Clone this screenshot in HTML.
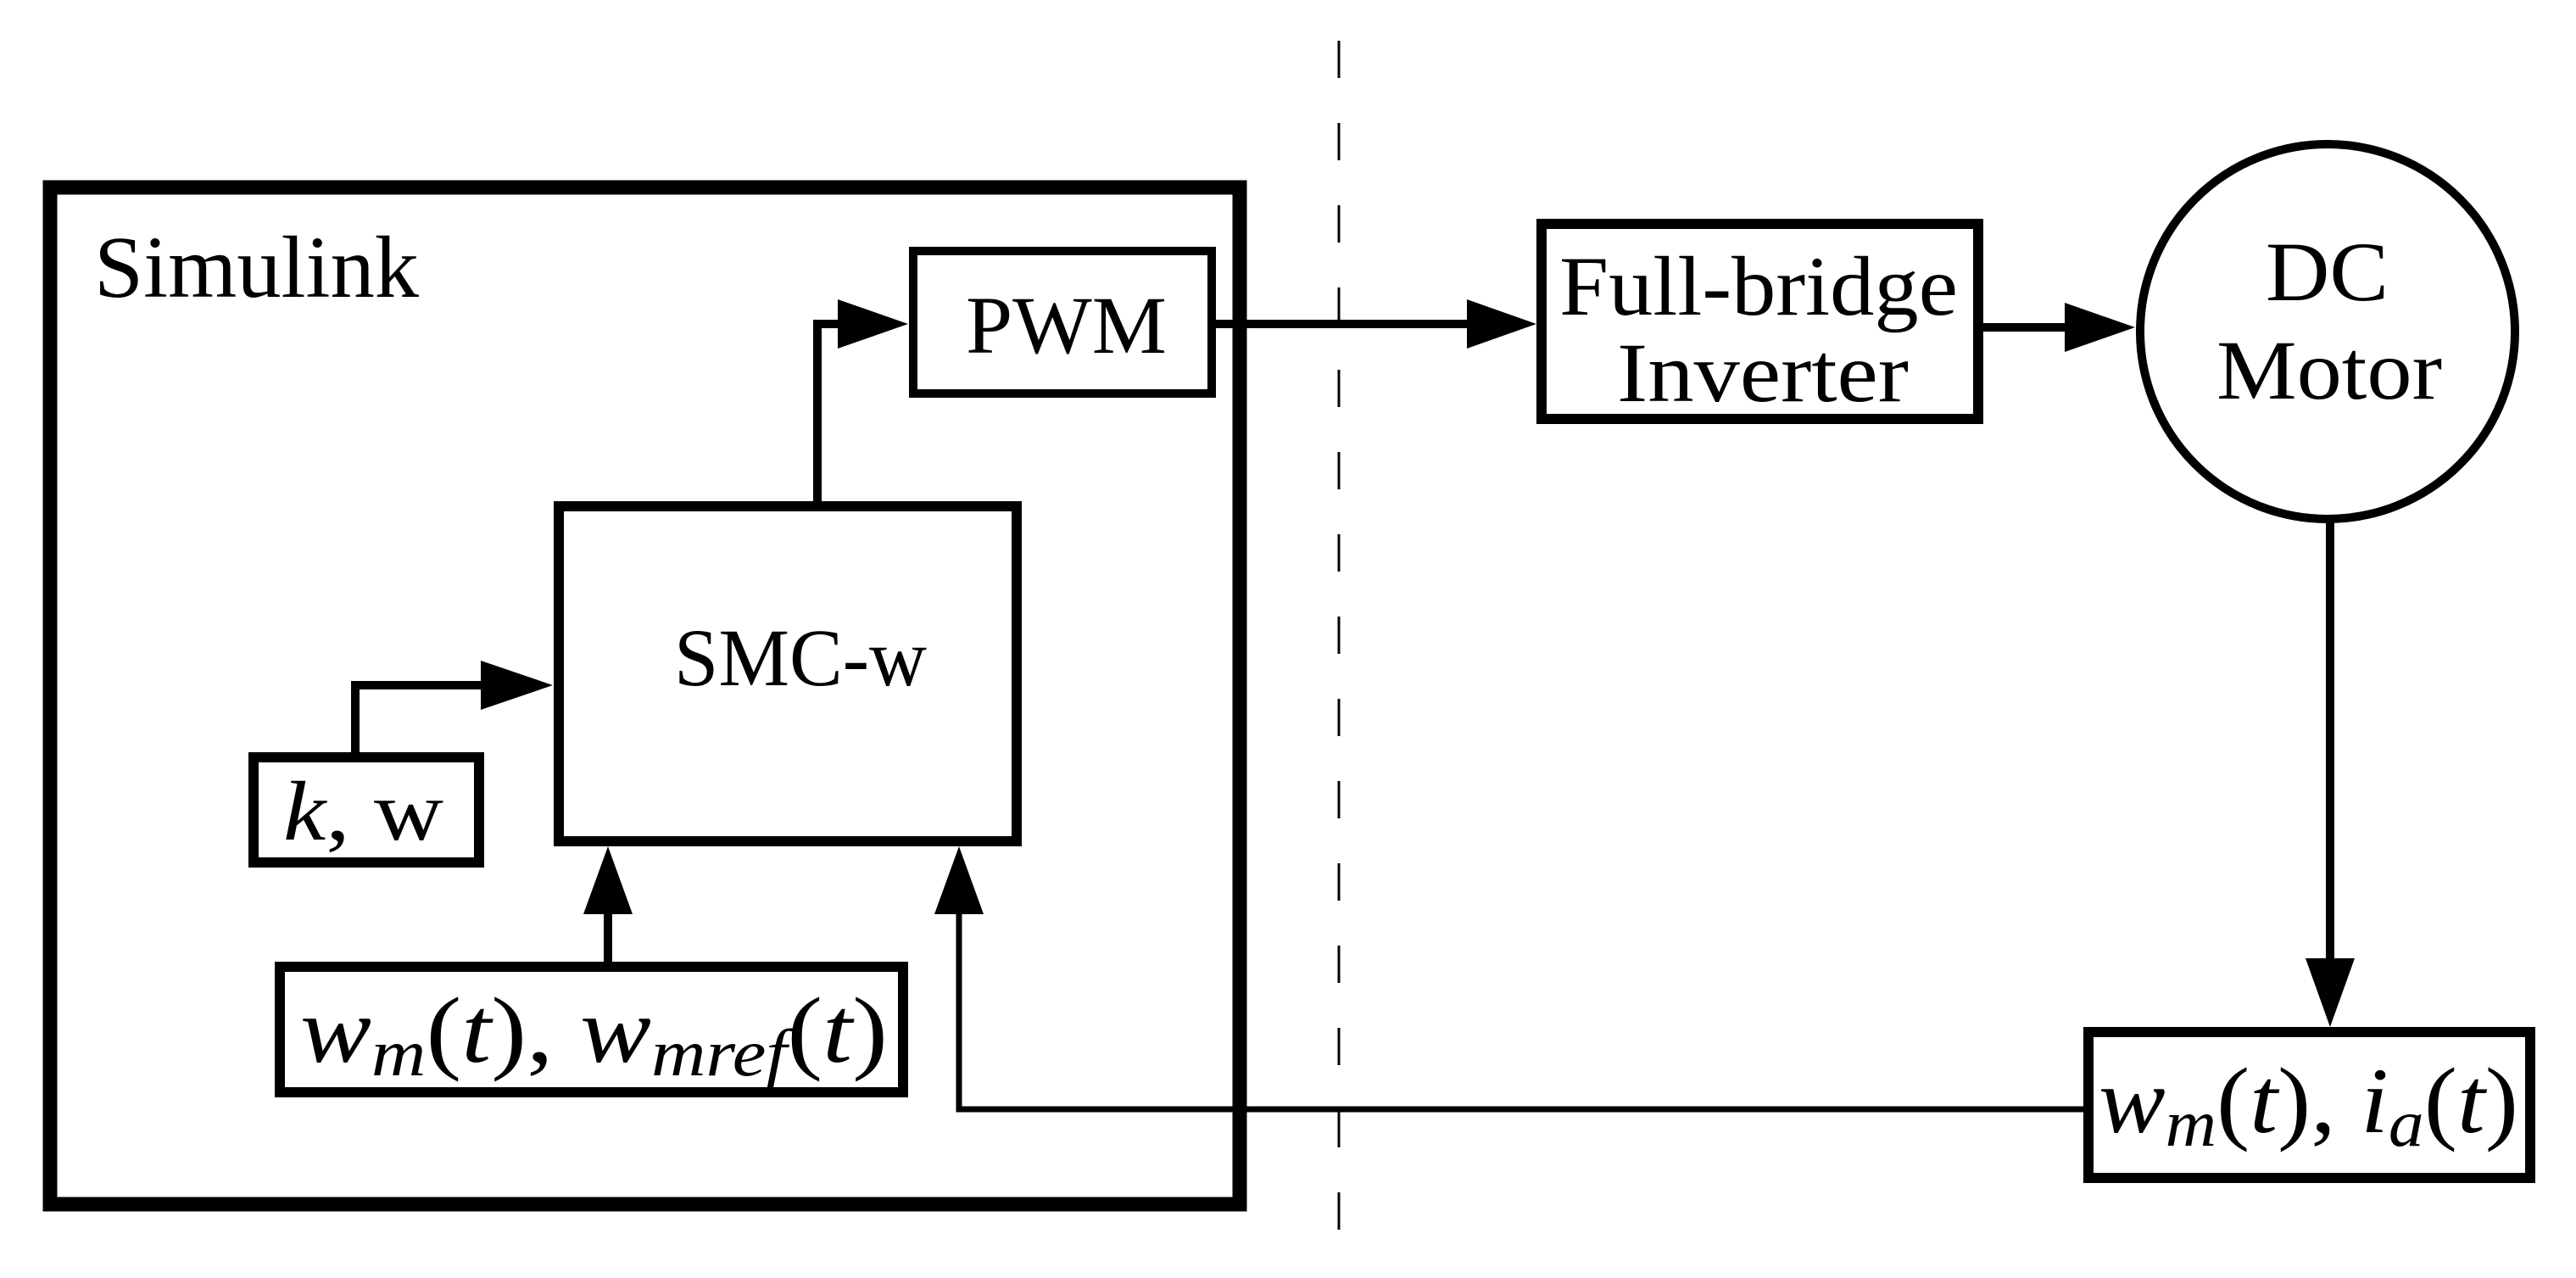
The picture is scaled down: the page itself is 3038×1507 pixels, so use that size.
<!DOCTYPE html>
<html><head><meta charset="utf-8"><style>
html,body{margin:0;padding:0;background:#fff}
svg{display:block}
text{font-family:"Liberation Serif",serif;fill:#000}
.m{font-style:italic}
</style></head><body>
<svg width="3038" height="1507" viewBox="0 0 3038 1507" xmlns="http://www.w3.org/2000/svg">
<g fill="none" stroke="#000" stroke-linejoin="miter">
<rect x="59" y="221" width="1403" height="1199" stroke-width="17"/>
<rect x="1077" y="296" width="352" height="168" stroke-width="10"/>
<rect x="659" y="597" width="540" height="395" stroke-width="12"/>
<rect x="299" y="893" width="266" height="124" stroke-width="12"/>
<rect x="330" y="1140" width="735" height="148" stroke-width="12"/>
<rect x="1818" y="264" width="515" height="230" stroke-width="12"/>
<circle cx="2745" cy="391" r="221" stroke-width="10"/>
<rect x="2463" y="1217" width="521" height="172" stroke-width="12"/>
<line x1="1579" y1="48" x2="1579" y2="1483" stroke-width="3" stroke-dasharray="44 53"/>
<g stroke-width="10">
<polyline points="964,592 964,382 995,382"/>
<polyline points="419,887 419,808 575,808"/>
<line x1="717" y1="1134" x2="717" y2="1070"/>
<line x1="1434" y1="382" x2="1740" y2="382"/>
<line x1="2338" y1="386" x2="2440" y2="386"/>
<line x1="2748" y1="612" x2="2748" y2="1135"/>
</g>
<polyline points="2457,1308 1131,1308 1131,1070" stroke-width="7"/>
</g>
<g fill="#000">
<polygon points="988,353 1071,382 988,411"/>
<polygon points="567,779 652,808 567,837"/>
<polygon points="688,1078 717,998 746,1078"/>
<polygon points="1102,1078 1131,998 1160,1078"/>
<polygon points="1730,353 1812,382 1730,411"/>
<polygon points="2435,357 2518,386 2435,415"/>
<polygon points="2719,1130 2748,1211 2777,1130"/>
</g>
<text x="111" y="350" font-size="104" textLength="383" lengthAdjust="spacingAndGlyphs">Simulink</text>
<text x="1139" y="416" font-size="96" textLength="237" lengthAdjust="spacingAndGlyphs">PWM</text>
<text x="795" y="808" font-size="96" textLength="298" lengthAdjust="spacingAndGlyphs">SMC-w</text>
<text x="334" y="990" font-size="100" textLength="189" lengthAdjust="spacingAndGlyphs"><tspan class="m">k</tspan>,  w</text>
<text x="1839" y="371" font-size="100" textLength="470" lengthAdjust="spacingAndGlyphs">Full-bridge</text>
<text x="1907" y="473" font-size="100" textLength="344" lengthAdjust="spacingAndGlyphs">Inverter</text>
<text x="2672" y="354" font-size="100" textLength="145" lengthAdjust="spacingAndGlyphs">DC</text>
<text x="2614" y="470" font-size="100" textLength="266" lengthAdjust="spacingAndGlyphs">Motor</text>
<text x="354" y="1252" font-size="110" textLength="693" lengthAdjust="spacingAndGlyphs"><tspan class="m">w</tspan><tspan class="m" font-size="78" dy="16">m</tspan><tspan dy="-16">(</tspan><tspan class="m">t</tspan>), <tspan class="m">w</tspan><tspan class="m" font-size="78" dy="16">mref</tspan><tspan dy="-16">(</tspan><tspan class="m">t</tspan>)</text>
<text x="2475" y="1335" font-size="110" textLength="495" lengthAdjust="spacingAndGlyphs"><tspan class="m">w</tspan><tspan class="m" font-size="78" dy="16">m</tspan><tspan dy="-16">(</tspan><tspan class="m">t</tspan>), <tspan class="m">i</tspan><tspan class="m" font-size="78" dy="16">a</tspan><tspan dy="-16">(</tspan><tspan class="m">t</tspan>)</text>
</svg>
</body></html>
